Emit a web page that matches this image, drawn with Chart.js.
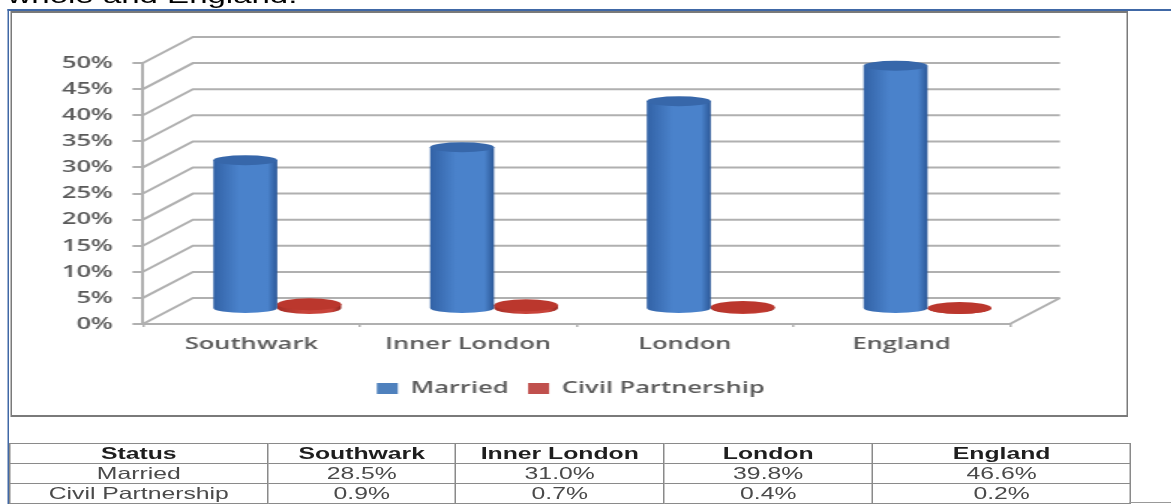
<!DOCTYPE html>
<html>
<head>
<meta charset="utf-8">
<script src="https://cdn.jsdelivr.net/npm/chart.js@4.4.1/dist/chart.umd.min.js"></script>
<style>
  html, body { margin: 0; padding: 0; background: #fff; overflow: hidden; }
  body { width: 1171px; height: 504px; position: relative; }
  /* the source picture is stretched sideways, so the whole page is too */
  #page { position: absolute; left: 0; top: 0; width: 781px; height: 504px; transform: scaleX(1.5); transform-origin: 0 0; }
  #intro { position: absolute; left: 5px; top: -15px; font: 22px 'Liberation Sans', Arial, sans-serif; line-height: 22px; color: #000; white-space: nowrap; }
  #frameTop { position: absolute; left: 5px; top: 9px; width: 776px; height: 2px; background: #4068a6; }
  #frameLeft { position: absolute; left: 4.8px; top: 9px; width: 1.2px; height: 495px; background: #4068a6; }
  #chartBox { position: absolute; left: 6.7px; top: 11px; width: 743px; height: 402px; border: 2px solid #7a7a7a; border-left-width: 1.5px; border-right-width: 1.5px; }
  #chart { position: absolute; left: 0; top: 0; }
  #stats { position: absolute; left: 6px; top: 443px; width: 747px; border-collapse: collapse; table-layout: fixed; font-family: 'Liberation Sans', Arial, sans-serif; font-size: 16.5px; }
  #stats td, #stats th { border: 1px solid #8a8a8a; padding: 0; height: 19px; line-height: 17px; text-align: center; color: #4a4a4a; font-weight: normal; }
  #stats th { font-weight: bold; color: #1e1e1e; }
  #tail { position: absolute; left: 753px; top: 502px; width: 28px; height: 1px; background: #999; }
</style>
</head>
<body>
<div id="page">
  <div id="intro">whole and England.</div>
  <div id="frameTop"></div>
  <div id="frameLeft"></div>
  <div id="chartBox"></div>
  <canvas id="chart" width="781" height="420"></canvas>
  <table id="stats">
    <colgroup><col style="width:172px"><col style="width:125.3px"><col style="width:138.7px"><col style="width:139.3px"><col style="width:172px"></colgroup>
    <thead><tr id="headRow"></tr></thead>
    <tbody id="bodyRows"></tbody>
  </table>
  <div id="tail"></div>
</div>
<script>
const categories = ['Southwark', 'Inner London', 'London', 'England'];
const seriesNames = ['Married', 'Civil Partnership'];
const married = [28.5, 31.0, 39.8, 46.6];
const civilPartnership = [0.9, 0.7, 0.4, 0.2];
const Y_MAX = 50;
const Y_STEP = 5;

// fake depth: back wall offset and where the cylinders stand
const WALL_DX = 33.3, WALL_DY = -26;
const BAR_DX = 17.3, BAR_DY = -15;

const blueCyl = { edge: '#3262a6', light: '#4a82cb', dark: '#2b5797', cap: '#3767aa', ry: 5 };
const redCyl = { edge: '#a52d25', light: '#c8433a', dark: '#932720', cap: '#bb372d', ry: 6 };

// table under the chart
const headRow = document.getElementById('headRow');
['Status', ...categories].forEach(t => {
  const th = document.createElement('th');
  th.textContent = t;
  headRow.appendChild(th);
});
const bodyRows = document.getElementById('bodyRows');
[married, civilPartnership].forEach((vals, i) => {
  const tr = document.createElement('tr');
  [seriesNames[i], ...vals.map(v => v.toFixed(1) + '%')].forEach(t => {
    const td = document.createElement('td');
    td.textContent = t;
    tr.appendChild(td);
  });
  bodyRows.appendChild(tr);
});

function drawCylinder(ctx, cx, top, bottom, rx, c) {
  const ry = c.ry;
  ctx.save();
  const g = ctx.createLinearGradient(cx - rx, 0, cx + rx, 0);
  g.addColorStop(0, c.edge);
  g.addColorStop(0.4, c.light);
  g.addColorStop(0.85, c.light);
  g.addColorStop(1, c.dark);
  ctx.fillStyle = g;
  ctx.beginPath();
  ctx.moveTo(cx - rx, top);
  ctx.lineTo(cx - rx, bottom);
  ctx.ellipse(cx, bottom, rx, ry, 0, Math.PI, 0, true);
  ctx.lineTo(cx + rx, top);
  ctx.closePath();
  ctx.fill();
  ctx.beginPath();
  ctx.ellipse(cx, top, rx, ry, 0, 0, Math.PI * 2);
  ctx.fillStyle = c.cap;
  ctx.fill();
  ctx.restore();
}

const depthPlugin = {
  id: 'depth',
  beforeDatasetsDraw(chart) {
    const { ctx, chartArea: a, scales: { y } } = chart;
    ctx.save();
    ctx.strokeStyle = '#b0b0b0';
    ctx.lineWidth = 2;
    y.ticks.forEach(t => {
      const py = y.getPixelForValue(t.value);
      ctx.beginPath();
      ctx.moveTo(a.left, py);
      ctx.lineTo(a.left + WALL_DX, py + WALL_DY);
      ctx.lineTo(a.right + WALL_DX, py + WALL_DY);
      ctx.stroke();
    });
    ctx.beginPath();
    ctx.moveTo(a.right, a.bottom);
    ctx.lineTo(a.right + WALL_DX, a.bottom + WALL_DY);
    ctx.stroke();
    ctx.restore();
  },
  beforeDatasetDraw(chart, args) {
    const ds = chart.data.datasets[args.index];
    args.meta.data.forEach(bar => {
      const { x, y, base, width } = bar.getProps(['x', 'y', 'base', 'width'], true);
      drawCylinder(chart.ctx, x + BAR_DX, y + BAR_DY, base + BAR_DY, width / 2, ds.cyl);
    });
    return false;
  }
};

Chart.defaults.font.family = "'Open Sans', sans-serif";
const labelFont = { family: "'Open Sans', sans-serif", size: 17, weight: '600' };
const labelColor = '#5a5a5a';

new Chart(document.getElementById('chart').getContext('2d'), {
  type: 'bar',
  data: {
    labels: categories,
    datasets: [
      { label: seriesNames[0], data: married, backgroundColor: '#4f81bd', cyl: blueCyl },
      { label: seriesNames[1], data: civilPartnership, backgroundColor: '#c0504d', cyl: redCyl }
    ]
  },
  options: {
    responsive: false,
    animation: false,
    datasets: { bar: { categoryPercentage: 0.59, barPercentage: 1 } },
    layout: { padding: { top: 63, left: 0, right: 20, bottom: 13 } },
    plugins: {
      tooltip: { enabled: false },
      legend: {
        position: 'bottom',
        labels: { font: labelFont, color: labelColor, boxWidth: 14, boxHeight: 11, padding: 13 }
      }
    },
    scales: {
      x: {
        grid: { display: true, drawOnChartArea: false, tickLength: 3, color: '#b0b0b0', lineWidth: 1.5 },
        border: { display: true, color: '#b0b0b0', width: 2 },
        ticks: { font: labelFont, color: labelColor, padding: 7 },
        afterFit: s => { s.height = 43; }
      },
      y: {
        min: 0,
        max: Y_MAX,
        grid: { drawOnChartArea: false, tickLength: 7, color: '#b0b0b0', lineWidth: 2 },
        border: { display: true, color: '#b0b0b0', width: 2 },
        ticks: { stepSize: Y_STEP, padding: 13, font: labelFont, color: labelColor, callback: v => v + '%' },
        afterFit: s => { s.width = 95.3; }
      },
      y2: {
        position: 'right',
        grid: { display: false },
        border: { display: false },
        ticks: { display: false },
        afterFit: s => { s.width = 87.7; }
      }
    }
  },
  plugins: [depthPlugin]
});
</script>
</body>
</html>
